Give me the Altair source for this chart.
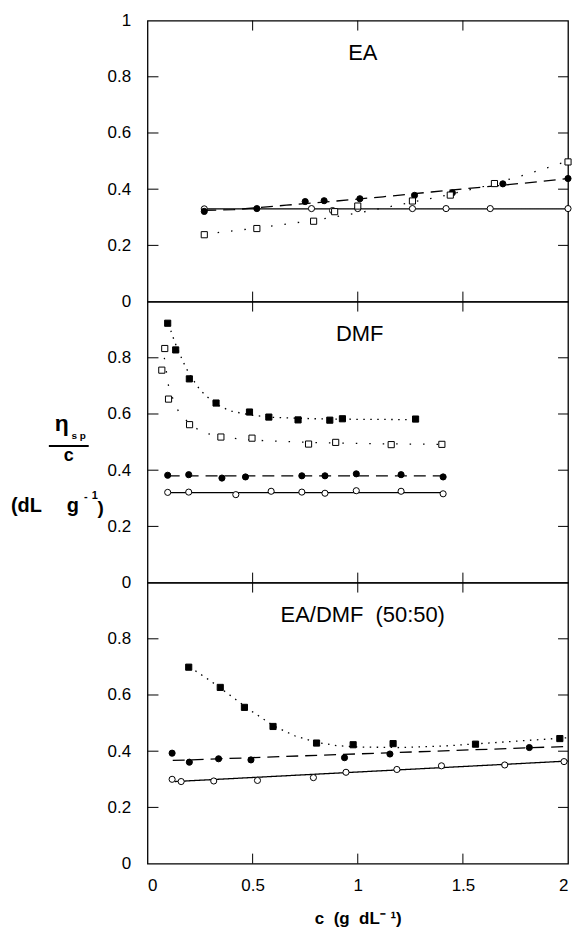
import altair as alt
import pandas as pd

W, H = 422, 282

# ---------------- EA panel ----------------
ea_oc_x = [0.27, 0.78, 0.88, 1.00, 1.26, 1.42, 1.63, 2.00]
ea_oc_y = [0.330, 0.331, 0.324, 0.331, 0.331, 0.331, 0.331, 0.331]
ea_fc_x = [0.27, 0.52, 0.75, 0.84, 1.01, 1.27, 1.45, 1.69, 2.00]
ea_fc_y = [0.321, 0.331, 0.356, 0.359, 0.366, 0.378, 0.387, 0.419, 0.438]
ea_os_x = [0.27, 0.52, 0.79, 0.89, 1.00, 1.26, 1.44, 1.65, 2.00]
ea_os_y = [0.238, 0.260, 0.286, 0.320, 0.340, 0.358, 0.379, 0.420, 0.497]
ea_solid_x = [0.27, 2.00]
ea_solid_y = [0.330, 0.330]
ea_dash_x = [0.27, 0.41, 0.66, 0.90, 1.12, 1.35, 1.63, 1.84, 2.00]
ea_dash_y = [0.325, 0.327, 0.343, 0.358, 0.373, 0.390, 0.410, 0.425, 0.438]
ea_dot_x = [0.27, 0.50, 0.80, 1.00, 1.20, 1.40, 1.60, 1.80, 2.00]
ea_dot_y = [0.240, 0.260, 0.290, 0.315, 0.345, 0.375, 0.410, 0.452, 0.500]

# ---------------- DMF panel ----------------
dmf_fs_x = [0.096, 0.134, 0.199, 0.326, 0.485, 0.577, 0.716, 0.867, 0.927, 1.275]
dmf_fs_y = [0.923, 0.828, 0.725, 0.639, 0.607, 0.589, 0.579, 0.578, 0.583, 0.582]
dmf_os_x = [0.082, 0.068, 0.100, 0.200, 0.349, 0.497, 0.766, 0.895, 1.159, 1.400]
dmf_os_y = [0.833, 0.756, 0.653, 0.562, 0.518, 0.514, 0.493, 0.499, 0.491, 0.492]
dmf_fc_x = [0.096, 0.196, 0.354, 0.466, 0.734, 0.844, 0.993, 1.206, 1.406]
dmf_fc_y = [0.382, 0.384, 0.372, 0.376, 0.380, 0.380, 0.387, 0.384, 0.376]
dmf_oc_x = [0.096, 0.196, 0.420, 0.588, 0.734, 0.844, 0.993, 1.206, 1.406]
dmf_oc_y = [0.321, 0.322, 0.313, 0.325, 0.322, 0.318, 0.327, 0.325, 0.316]
dmf_fsfit_x = [0.10, 0.13, 0.17, 0.20, 0.25, 0.30, 0.35, 0.40, 0.50, 0.60, 0.80, 1.00, 1.28]
dmf_fsfit_y = [0.920, 0.855, 0.785, 0.740, 0.685, 0.650, 0.625, 0.610, 0.595, 0.588, 0.583, 0.581, 0.580]
dmf_osfit_x = [0.08, 0.10, 0.125, 0.15, 0.20, 0.26, 0.35, 0.50, 0.80, 1.10, 1.40]
dmf_osfit_y = [0.800, 0.700, 0.645, 0.605, 0.565, 0.535, 0.518, 0.507, 0.498, 0.494, 0.492]
dmf_fcfit_x = [0.096, 1.406]
dmf_fcfit_y = [0.380, 0.380]
dmf_ocfit_x = [0.096, 1.406]
dmf_ocfit_y = [0.320, 0.320]

# ---------------- EA/DMF (50:50) panel ----------------
mix_fs_x = [0.196, 0.346, 0.461, 0.597, 0.804, 0.978, 1.168, 1.560, 1.961]
mix_fs_y = [0.699, 0.627, 0.556, 0.488, 0.429, 0.423, 0.427, 0.425, 0.445]
mix_fc_x = [0.117, 0.199, 0.338, 0.492, 0.937, 1.153, 1.816]
mix_fc_y = [0.393, 0.361, 0.373, 0.369, 0.377, 0.390, 0.413]
mix_oc_x = [0.117, 0.160, 0.315, 0.523, 0.789, 0.944, 1.186, 1.398, 1.699, 1.981]
mix_oc_y = [0.300, 0.292, 0.294, 0.296, 0.306, 0.325, 0.335, 0.348, 0.351, 0.363]
mix_fsfit_x = [0.20, 0.30, 0.40, 0.50, 0.60, 0.70, 0.80, 0.90, 1.00, 1.20, 1.40, 1.60, 1.80, 2.00]
mix_fsfit_y = [0.700, 0.650, 0.595, 0.540, 0.490, 0.455, 0.432, 0.420, 0.415, 0.413, 0.418, 0.428, 0.438, 0.448]
mix_fcfit_x = [0.12, 2.00]
mix_fcfit_y = [0.367, 0.417]
mix_ocfit_x = [0.13, 2.00]
mix_ocfit_y = [0.292, 0.365]

x_ticks = [0.5, 1.0, 1.5]
y_ticks = [0.2, 0.4, 0.6, 0.8]

FONT = "Liberation Sans"
NB = "\u00a0"
KINDS = ["oc", "fc", "os", "fs"]
STYLES = ["solid", "dashed", "dotted", "sparse"]

xs = alt.Scale(domain=[0, 2], nice=False, zero=False)
ys = alt.Scale(domain=[0, 1], nice=False, zero=False)


def pts(*groups):
    frames = [pd.DataFrame({"x": x, "y": y, "kind": k}) for x, y, k in groups]
    return pd.concat(frames, ignore_index=True)


def fits(*groups):
    frames = [pd.DataFrame({"x": x, "y": y, "style": s, "sid": i})
              for i, (x, y, s) in enumerate(groups)]
    return pd.concat(frames, ignore_index=True)


def panel(pdf, fdf, title, tx, yvals, show_x, extra=None):
    if show_x:
        xaxis = alt.Axis(values=[0, 0.5, 1, 1.5, 2], format="~g", ticks=False, domain=False,
                         grid=False, labelFont=FONT, labelFontSize=17, labelColor="black",
                         labelPadding=14, title="c" + NB * 2 + "(g" + NB * 2 + "dL\u207b" + NB + "\u00b9)",
                         titleFont=FONT, titleFontSize=17, titleFontWeight="bold",
                         titleColor="black", titlePadding=17)
    else:
        xaxis = None
    yaxis = alt.Axis(values=yvals, format="~g", ticks=False, domain=False, grid=False,
                     labelFont=FONT, labelFontSize=17, labelColor="black",
                     labelPadding=17, title=None)
    X = lambda f: alt.X(f, type="quantitative", scale=xs, axis=xaxis)
    Y = lambda f: alt.Y(f, type="quantitative", scale=ys, axis=yaxis)

    lines = alt.Chart(fdf).mark_line(color="black", strokeWidth=1.3).encode(
        x=X("x"), y=Y("y"), detail="sid:N",
        strokeDash=alt.StrokeDash("style:N", legend=None,
                                  scale=alt.Scale(domain=STYLES,
                                                  range=[[1, 0], [12, 7], [1.5, 5.5], [1.5, 12]])))
    points = alt.Chart(pdf).mark_point(filled=True, stroke="black", strokeWidth=1,
                                       opacity=1, size=38).encode(
        x=X("x"), y=Y("y"),
        shape=alt.Shape("kind:N", legend=None,
                        scale=alt.Scale(domain=KINDS, range=["circle", "circle", "square", "square"])),
        fill=alt.Fill("kind:N", legend=None,
                      scale=alt.Scale(domain=KINDS, range=["white", "black", "white", "black"])))
    txd = pd.DataFrame({"t": x_ticks})
    tyd = pd.DataFrame({"t": y_ticks})
    top = alt.Chart(txd).mark_rule(color="black").encode(x=X("t"), y=alt.value(0), y2=alt.value(10))
    bot = alt.Chart(txd).mark_rule(color="black").encode(x=X("t"), y=alt.value(H), y2=alt.value(H - 10))
    left = alt.Chart(tyd).mark_rule(color="black").encode(y=Y("t"), x=alt.value(0), x2=alt.value(11))
    right = alt.Chart(tyd).mark_rule(color="black").encode(y=Y("t"), x=alt.value(W), x2=alt.value(W - 10))
    ttl = alt.Chart(pd.DataFrame({"t": [title]})).mark_text(
        font=FONT, fontSize=22, color="black").encode(
        text="t:N", x=alt.value(tx), y=alt.value(33))
    layers = [lines, points, top, bot, left, right, ttl]
    if extra:
        layers += extra
    return alt.layer(*layers).properties(width=W, height=H)


def txt(s, x, y, size, weight="bold", align="center"):
    return alt.Chart(pd.DataFrame({"t": [s]})).mark_text(
        font=FONT, fontSize=size, fontWeight=weight, color="black", align=align,
        baseline="middle").encode(text="t:N", x=alt.value(x), y=alt.value(y))


ylabel = [
    txt("\u03b7", -86, 123, 23),
    txt("s" + NB + "p", -69, 135, 10),
    alt.Chart(pd.DataFrame({"a": [0]})).mark_rule(color="black", strokeWidth=2).encode(
        x=alt.value(-99), x2=alt.value(-59), y=alt.value(145)),
    txt("c", -79, 155, 18),
    txt("(dL", -137, 205, 20, align="left"),
    txt("g", -81, 205, 20, align="left"),
    txt("-", -62, 196, 11),
    txt("1", -53, 195, 11),
    txt(")", -47, 207, 19),
]

p1 = panel(pts((ea_oc_x, ea_oc_y, "oc"), (ea_fc_x, ea_fc_y, "fc"), (ea_os_x, ea_os_y, "os")),
           fits((ea_solid_x, ea_solid_y, "solid"), (ea_dash_x, ea_dash_y, "dashed"),
                (ea_dot_x, ea_dot_y, "sparse")),
           "EA", 216, [0, 0.2, 0.4, 0.6, 0.8, 1], False)
p2 = panel(pts((dmf_oc_x, dmf_oc_y, "oc"), (dmf_fc_x, dmf_fc_y, "fc"),
               (dmf_os_x, dmf_os_y, "os"), (dmf_fs_x, dmf_fs_y, "fs")),
           fits((dmf_ocfit_x, dmf_ocfit_y, "solid"), (dmf_fcfit_x, dmf_fcfit_y, "dashed"),
                (dmf_osfit_x, dmf_osfit_y, "sparse"), (dmf_fsfit_x, dmf_fsfit_y, "dotted")),
           "DMF", 213, [0, 0.2, 0.4, 0.6, 0.8], False, extra=ylabel)
p3 = panel(pts((mix_oc_x, mix_oc_y, "oc"), (mix_fc_x, mix_fc_y, "fc"), (mix_fs_x, mix_fs_y, "fs")),
           fits((mix_ocfit_x, mix_ocfit_y, "solid"), (mix_fcfit_x, mix_fcfit_y, "dashed"),
                (mix_fsfit_x, mix_fsfit_y, "dotted")),
           "EA/DMF" + NB * 2 + "(50:50)", 216, [0, 0.2, 0.4, 0.6, 0.8], True)

chart = alt.vconcat(p1, p2, p3, spacing=0, bounds="flush").properties(
    padding={"left": 2, "top": 1, "right": 0, "bottom": 0}
).configure_view(stroke="black", strokeWidth=1.3)

chart.save("out.html", embed_options={"renderer": "svg", "actions": False})
